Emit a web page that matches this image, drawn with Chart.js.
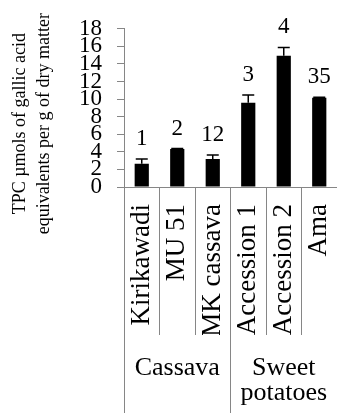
<!DOCTYPE html>
<html>
<head>
<meta charset="utf-8">
<script src="https://cdn.jsdelivr.net/npm/chart.js@4/dist/chart.umd.min.js"></script>
<style>
  body { margin: 0; background: #fff; }
</style>
</head>
<body>
<canvas id="tpcChart" width="337" height="413"></canvas>
<script>
// data
const varieties = ['Kirikawadi', 'MU 51', 'MK cassava', 'Accession 1', 'Accession 2', 'Ama'];
const groups = ['Cassava', ['Sweet', 'potatoes']];
const tpcMeans = [2.64, 4.33, 3.2, 9.6, 14.94, 10.16];
const tpcErrors = [0.56, 0.05, 0.45, 0.86, 0.94, 0.05];
const barNotes = ['1', '2', '12', '3', '4', '35'];
const yTitle = ['TPC \u00b5mols of gallic acid       ', 'equivalents per g of dry matter       '];

const serif = 'Liberation Serif, Times New Roman, serif';
const axisGray = '#868686';

// error bars (upper half only shows) and the numbers above each bar
const barExtras = {
    id: 'barExtras',
    afterDatasetsDraw(chart) {
        const ctx = chart.ctx;
        const yScale = chart.scales.y;
        const bars = chart.getDatasetMeta(0).data;
        ctx.save();
        ctx.strokeStyle = '#000';
        ctx.fillStyle = '#000';
        ctx.lineWidth = 1.5;
        ctx.font = '23px ' + serif;
        ctx.textAlign = 'center';
        ctx.textBaseline = 'alphabetic';
        bars.forEach((bar, i) => {
            const yMean = yScale.getPixelForValue(tpcMeans[i]);
            const yTop = yScale.getPixelForValue(tpcMeans[i] + tpcErrors[i]);
            ctx.beginPath();
            ctx.moveTo(bar.x, yMean);
            ctx.lineTo(bar.x, yTop);
            ctx.moveTo(bar.x - 6, yTop);
            ctx.lineTo(bar.x + 6, yTop);
            ctx.stroke();
            ctx.fillText(barNotes[i], bar.x, yTop - 14);
        });
        ctx.restore();
    }
};

new Chart(document.getElementById('tpcChart'), {
    type: 'bar',
    data: {
        labels: varieties,
        datasets: [{
            data: tpcMeans,
            backgroundColor: '#000',
            borderWidth: 0,
            barPercentage: 0.4,
            categoryPercentage: 1
        }]
    },
    options: {
        responsive: false,
        animation: false,
        layout: { padding: { top: 27, right: -2, left: 0, bottom: 0 } },
        plugins: {
            legend: { display: false },
            tooltip: { enabled: false }
        },
        scales: {
            x: {
                position: 'bottom',
                weight: 0,
                offset: true,
                grid: { offset: true, drawOnChartArea: false, tickLength: 148, color: axisGray },
                border: { color: axisGray },
                ticks: {
                    autoSkip: false,
                    minRotation: 90,
                    maxRotation: 90,
                    padding: -131,
                    color: '#000',
                    font: { family: serif, size: 27 }
                },
                afterFit(scale) { scale.height = 148; }
            },
            x2: {
                type: 'category',
                position: 'bottom',
                weight: 1,
                labels: groups,
                offset: true,
                grid: { offset: true, drawOnChartArea: false, tickLength: 78, color: axisGray },
                border: { display: false },
                ticks: {
                    autoSkip: false,
                    minRotation: 0,
                    maxRotation: 0,
                    padding: -57,
                    color: '#000',
                    font: { family: serif, size: 26, lineHeight: 0.96 }
                },
                afterFit(scale) { scale.height = 78; }
            },
            y: {
                min: 0,
                max: 18,
                grid: { drawOnChartArea: false, tickLength: 7, color: axisGray },
                border: { color: axisGray },
                ticks: {
                    stepSize: 2,
                    autoSkip: false,
                    padding: 15,
                    color: '#000',
                    font: { family: serif, size: 23 }
                },
                title: {
                    display: true,
                    text: yTitle,
                    color: '#000',
                    padding: { top: 8, bottom: 0 },
                    font: { family: serif, size: 18, lineHeight: 1.33 }
                },
                afterFit(scale) { scale.width = 124; }
            }
        }
    },
    plugins: [barExtras]
});
</script>
</body>
</html>
